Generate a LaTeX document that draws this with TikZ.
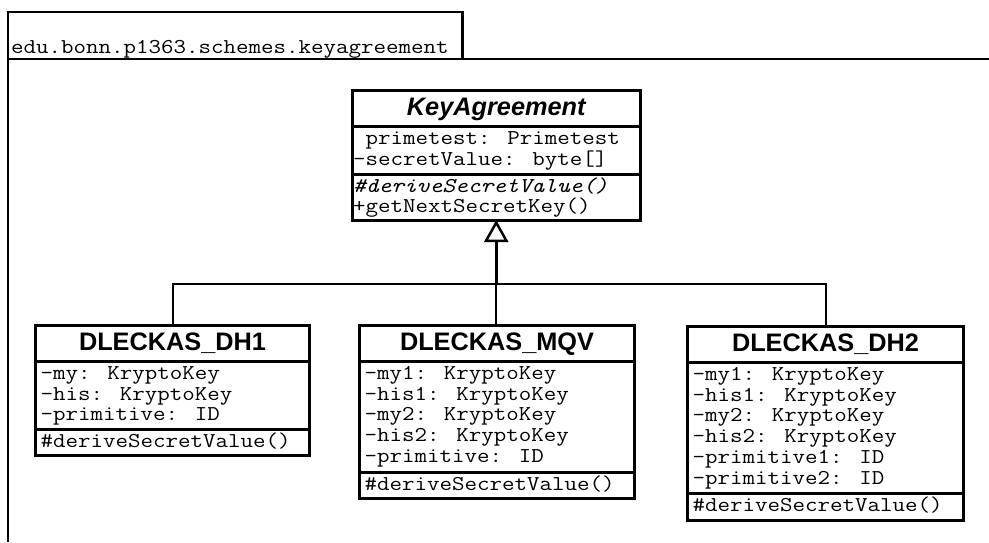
\documentclass[tikz,border=0pt]{standalone}
\usepackage{fontspec}
\setmainfont{Liberation Sans}
\newfontfamily\umlmono{Latin Modern Mono}[FakeStretch=1.15]
\usetikzlibrary{arrows.meta}
\tikzset{
  pkgframe/.style={line width=2.6pt},
  classbox/.style={draw, line width=3pt, inner sep=0pt, outer sep=0pt, anchor=north west},
  sepline/.style={line width=3pt},
  classtitle/.style={inner sep=0pt, anchor=base, font=\bfseries\fontsize{25.3}{26}\selectfont},
  member/.style={inner sep=0pt, anchor=base west, font=\umlmono\fontsize{21.1}{21}\selectfont},
  link/.style={line width=2pt},
  gen/.style={line width=2.8pt, -{Triangle[open, length=22pt, width=24pt, line width=2.5pt]}},
}
\begin{document}
\begin{tikzpicture}[x=1pt, y=-1pt]
\useasboundingbox (0,0) rectangle (989,542);

% package with its tab
\draw[pkgframe] (8,12) rectangle (462.5,59);
\draw[pkgframe] (8,542) -- (8,59) -- (989,59);
\node[member] (pkgname) at (11,53) {edu.bonn.p1363.schemes.keyagreement};

% abstract class KeyAgreement
\node[classbox, minimum width=287.5pt, minimum height=130pt] (ka) at (352.5,90) {};
\draw[sepline] (352.5,126.5) -- (640,126.5);
\draw[sepline] (352.5,174.5) -- (640,174.5);
\node[classtitle, font=\bfseries\itshape\fontsize{25.3}{26}\selectfont] (kat) at (496.25,115) {KeyAgreement};
\node[member] (ka1) at (353,144.5) {\hphantom{-}primetest: Primetest};
\node[member] (ka2) at (353,165.2) {-secretValue: byte[]};
\node[member, font=\umlmono\itshape\fontsize{21.1}{21}\selectfont] (ka3) at (353,192) {\#deriveSecretValue()};
\node[member] (ka4) at (353,212.7) {+getNextSecretKey()};

% DLECKAS_DH1
\node[classbox, minimum width=274pt, minimum height=130.5pt] (dh1) at (35.5,325) {};
\draw[sepline] (35.5,361.5) -- (309.5,361.5);
\draw[sepline] (35.5,429.5) -- (309.5,429.5);
\node[classtitle] (dh1t) at (172.5,350) {DLECKAS\_DH1};
\node[member] (dh1a) at (40.5,379.5) {-my: KryptoKey};
\node[member] (dh1b) at (40.5,400.2) {-his: KryptoKey};
\node[member] (dh1c) at (40.5,420.9) {-primitive: ID};
\node[member] (dh1m) at (40.5,447) {\#deriveSecretValue()};

% DLECKAS_MQV
\node[classbox, minimum width=275pt, minimum height=173.5pt] (mqv) at (359.5,325) {};
\draw[sepline] (359.5,361.5) -- (634.5,361.5);
\draw[sepline] (359.5,472.5) -- (634.5,472.5);
\node[classtitle] (mqvt) at (497,350) {DLECKAS\_MQV};
\node[member] (mqva) at (364.5,379.5) {-my1: KryptoKey};
\node[member] (mqvb) at (364.5,400.2) {-his1: KryptoKey};
\node[member] (mqvc) at (364.5,420.9) {-my2: KryptoKey};
\node[member] (mqvd) at (364.5,441.6) {-his2: KryptoKey};
\node[member] (mqve) at (364.5,462.3) {-primitive: ID};
\node[member] (mqvm) at (364.5,490) {\#deriveSecretValue()};

% DLECKAS_DH2
\node[classbox, minimum width=276pt, minimum height=193.5pt] (dh2) at (687.5,326.5) {};
\draw[sepline] (687.5,362.5) -- (963.5,362.5);
\draw[sepline] (687.5,493.5) -- (963.5,493.5);
\node[classtitle] (dh2t) at (825.5,351.5) {DLECKAS\_DH2};
\node[member] (dh2a) at (692.5,380.5) {-my1: KryptoKey};
\node[member] (dh2b) at (692.5,401.2) {-his1: KryptoKey};
\node[member] (dh2c) at (692.5,421.9) {-my2: KryptoKey};
\node[member] (dh2d) at (692.5,442.6) {-his2: KryptoKey};
\node[member] (dh2e) at (692.5,463.3) {-primitive1: ID};
\node[member] (dh2f) at (692.5,484) {-primitive2: ID};
\node[member] (dh2m) at (692.5,511) {\#deriveSecretValue()};

% generalization tree
\coordinate (j) at (496.25,283.5);
\draw[link] (dh1.north) |- (j) -| (dh2.north);
\draw[link] (j) -- (j |- mqv.north);
\draw[gen] (j) -- (ka.south);
\end{tikzpicture}
\end{document}
